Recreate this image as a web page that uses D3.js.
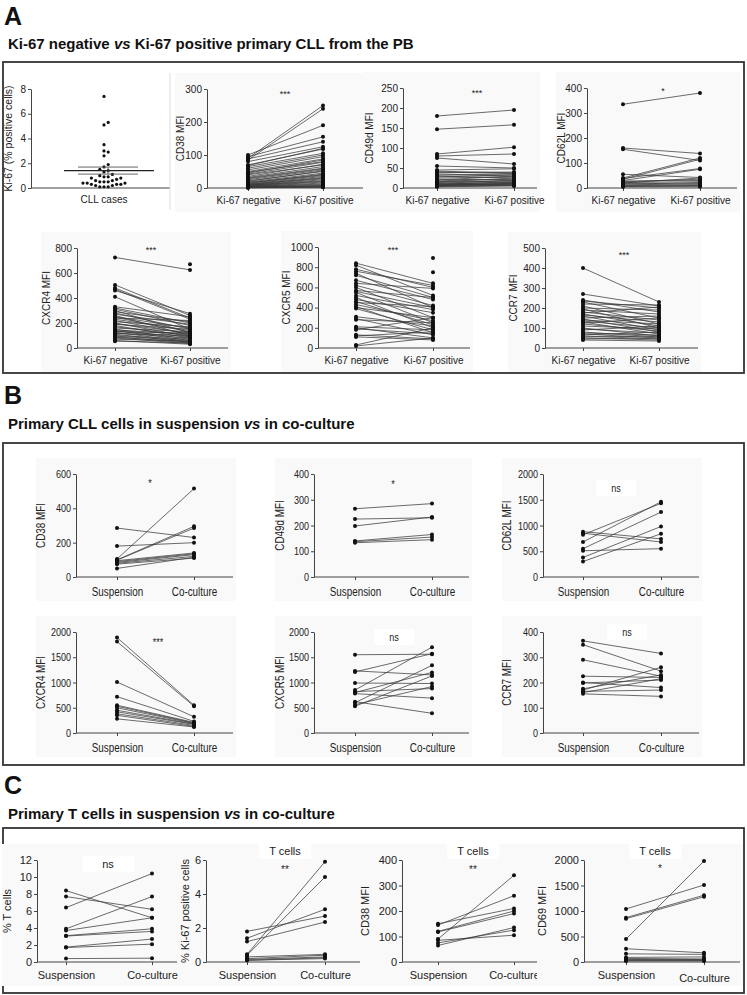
<!DOCTYPE html>
<html><head><meta charset="utf-8">
<script src="https://cdn.jsdelivr.net/npm/d3@7"></script>
<style>body{margin:0;background:#fff}svg{display:block}</style>
</head><body><svg id="c" width="747" height="995"></svg>
<script>
// ---------- DATA ----------
const catsKi = ["Ki-67 negative", "Ki-67 positive"];
const catsCo = ["Suspension", "Co-culture"];

const ki67Cases = [7.4,5.3,5.1,3.5,3.0,2.9,2.6,1.9,1.7,1.5,1.4,1.3,1.1,1.0,0.9,0.9,0.8,0.8,0.7,0.6,0.6,0.5,0.5,0.5,0.4,0.4,0.4,0.3,0.3,0.3,0.2,0.2,0.1,0.1,0.1];
const ki67Ticks = [0,2,4,6,8];

const cd38A_neg = [90,85,100,95,88,80,70,68,65,60,55,50,48,45,42,40,35,32,30,28,25,22,20,18,16,15,14,12,11,10,9,8,8,7,6,5,5,4,3,3,2,2,1,1];
const cd38A_pos = [250,240,190,155,140,125,118,120,105,100,95,88,80,85,78,70,72,65,60,58,55,50,52,45,40,42,38,35,30,32,28,25,22,20,18,15,12,10,8,6,5,4,3,2];
const cd38A_ticks = [0,100,200,300];

const cd49dA_neg = [180,147,85,80,75,55,45,42,40,38,35,32,30,28,25,22,20,18,16,15,14,12,11,10,9,8,8,7,6,5,5,4,3];
const cd49dA_pos = [195,158,102,85,60,50,48,38,36,40,30,35,25,33,28,20,30,22,15,25,18,12,20,14,10,16,9,11,8,12,6,7,5];
const cd49dA_ticks = [0,50,100,150,200,250];

const cd62lA_neg = [335,160,155,55,40,38,35,30,28,25,22,20,18,15,12,10,8,6,5];
const cd62lA_pos = [380,138,110,42,120,78,115,75,30,35,25,40,15,22,18,12,10,8,5];
const cd62lA_ticks = [0,100,200,300,400];

const cxcr4A_neg = [725,505,480,470,460,410,330,320,310,300,290,280,270,260,250,245,240,230,220,210,200,195,190,180,170,160,150,145,140,135,130,125,120,115,110,100,95,90,85,80,70,60,55];
const cxcr4A_pos = [625,260,240,230,275,150,250,200,180,120,210,150,190,100,160,130,220,140,110,170,90,120,150,80,100,130,70,110,60,90,120,50,80,100,45,70,60,40,50,35,55,30,40];
const cxcr4A_posExtra = [670];
const cxcr4A_ticks = [0,200,400,600,800];

const cxcr5A_neg = [840,820,780,760,740,720,670,640,620,600,570,560,550,520,500,480,460,450,430,410,400,390,310,290,280,210,200,190,180,130,120,110,30,20];
const cxcr5A_pos = [640,520,600,620,400,500,480,590,420,300,500,400,250,380,200,350,230,410,270,150,300,180,220,130,250,180,100,140,300,90,160,80,200,100];
const cxcr5A_posExtra = [890,750];
const cxcr5A_ticks = [0,200,400,600,800,1000];

const ccr7A_neg = [400,270,240,235,230,220,210,200,195,190,180,175,170,165,160,150,145,140,135,130,125,120,110,100,95,90,80,75,70,65,60,55,50,45,40];
const ccr7A_pos = [230,210,180,200,150,215,120,190,100,170,140,205,110,130,90,160,80,120,100,70,150,85,95,60,75,110,55,65,50,80,45,60,40,50,35];
const ccr7A_ticks = [0,100,200,300,400,500];

const cd38B_susp = [285,180,105,100,98,95,90,85,80,75,50];
const cd38B_co   = [230,200,515,295,285,140,135,130,120,110,115];
const cd38B_ticks = [0,200,400,600];

const cd49dB_susp = [265,225,198,140,137,133];
const cd49dB_co   = [285,230,233,165,155,145];
const cd49dB_ticks = [0,100,200,300,400];

const cd62lB_susp = [880,850,820,680,550,510,380,300];
const cd62lB_co   = [740,680,1430,1460,1260,550,980,840];
const cd62lB_ticks = [0,500,1000,1500,2000];

const cxcr4B_susp = [1890,1810,1010,720,550,530,500,450,420,380,350,280];
const cxcr4B_co   = [550,530,320,230,210,200,190,180,170,150,130,120];
const cxcr4B_ticks = [0,500,1000,1500,2000];

const cxcr5B_susp = [1550,1230,1210,990,850,820,800,780,620,600,560,530];
const cxcr5B_co   = [1560,1150,1570,980,1700,880,1200,690,390,1340,920,1130];
const cxcr5B_ticks = [0,500,1000,1500,2000];

const ccr7B_susp = [365,350,290,225,200,198,175,170,165,160,155];
const ccr7B_co   = [315,245,225,220,180,210,230,260,170,215,145];
const ccr7B_ticks = [0,100,200,300,400];

const tcellsC_susp = [8.4,7.7,6.4,3.9,3.7,3.1,3.05,1.75,1.7,0.4];
const tcellsC_co   = [5.2,6.2,10.4,7.7,5.2,3.9,3.6,2.7,2.1,0.45];
const tcellsC_ticks = [0,2,4,6,8,10,12];

const ki67C_susp = [1.8,1.4,1.2,0.45,0.4,0.3,0.2,0.15,0.1,0.1];
const ki67C_co   = [2.7,3.1,2.35,5.9,5.0,0.45,0.4,0.3,0.25,0.2];
const ki67C_ticks = [0,2,4,6];

const cd38C_susp = [150,145,120,118,90,85,75,65];
const cd38C_co   = [210,260,200,190,340,105,125,135];
const cd38C_ticks = [0,100,200,300,400];

const cd69C_susp = [1040,870,850,450,260,160,90,70,50,40,30,20];
const cd69C_co   = [1510,1310,1280,1980,180,150,100,60,40,50,30,20];
const cd69C_ticks = [0,500,1000,1500,2000];

// ---------- DRAWING ----------
const svg = d3.select('#c');
const FONT = "'Liberation Sans', Arial, Helvetica, sans-serif";
const INK = '#222';

function header(letter, ly, title, ty) {
  svg.append('text').attr('x', 4).attr('y', ly).attr('font-family', FONT)
    .attr('font-weight', 'bold').attr('font-size', 25).attr('fill', '#111').text(letter);
  const t = svg.append('text').attr('x', 8).attr('y', ty).attr('font-family', FONT)
    .attr('font-weight', 'bold').attr('font-size', 15).attr('fill', '#111');
  title.forEach(p => t.append('tspan').attr('font-style', p.i ? 'italic' : 'normal').text(p.t));
}
function frame(y0, y1) {
  svg.append('rect').attr('x', 3).attr('y', y0).attr('width', 741).attr('height', y1 - y0)
    .attr('fill', 'none').attr('stroke', '#333').attr('stroke-width', 1.8);
}
function labelBox(g, x, y, txt, fs, font, pad) {
  const t = g.append('text').attr('x', x).attr('y', y).attr('text-anchor', 'middle')
    .attr('font-family', font).attr('font-size', fs).attr('fill', INK).text(txt);
  const b = t.node().getBBox();
  g.insert('rect', () => t.node()).attr('x', b.x - pad).attr('y', b.y - 2).attr('width', b.width + 2 * pad)
    .attr('height', b.height + 4).attr('fill', '#fff');
}

function yAxis(g, o, y) {
  const ay = g.append('g').attr('transform', `translate(${o.ax},0)`)
    .call(d3.axisLeft(y).tickValues(o.ticks).tickSize(3).tickPadding(2).tickSizeOuter(0).tickFormat(d3.format('d')));
  ay.attr('font-family', o.font).attr('font-size', o.fs);
  ay.select('.domain').attr('stroke', '#444');
  ay.selectAll('.tick line').attr('stroke', '#444');
  ay.selectAll('.tick text').attr('fill', INK);
  g.append('text').attr('transform', `translate(${o.lx},${(o.y0 + o.y1) / 2}) rotate(-90)`)
    .attr('text-anchor', 'middle').attr('font-family', o.font).attr('font-size', o.lfs || o.fs)
    .attr('fill', INK).text(o.ylab);
}

function paired(o) {
  const g = svg.append('g');
  const x = d3.scalePoint().domain(o.cats).range([o.c1, o.c2]);
  const y = d3.scaleLinear().domain([0, d3.max(o.ticks)]).range([o.y0, o.y1]);
  g.append('rect').attr('x', o.lx - 9).attr('y', o.y1 - 16).attr('width', o.axEnd - o.lx + 12)
    .attr('height', o.y0 - o.y1 + 40).attr('fill', '#f9f9f9');
  if (o.tc) labelBox(g, o.tc[0], o.tc[1], 'T cells', o.fs, o.font, 10);
  yAxis(g, o, y);
  const ax = g.append('g').attr('transform', `translate(0,${o.y0})`)
    .call(d3.axisBottom(x).tickSize(3).tickPadding(o.xpad || 5));
  ax.attr('font-family', o.font).attr('font-size', o.xfs || o.fs);
  ax.select('.domain').remove();
  ax.selectAll('.tick line').attr('stroke', '#444');
  ax.selectAll('.tick text').attr('fill', INK)
    .attr('dy', (d, i) => (o.xdrop && i === 1) ? '1.0em' : '0.71em');
  g.append('line').attr('x1', o.ax).attr('x2', o.axEnd).attr('y1', o.y0).attr('y2', o.y0)
    .attr('stroke', '#444');
  const pairs = d3.zip(o.a, o.b);
  g.selectAll('line.pr').data(pairs).join('line').attr('class', 'pr')
    .attr('x1', x(o.cats[0])).attr('x2', x(o.cats[1]))
    .attr('y1', d => y(d[0])).attr('y2', d => y(d[1]))
    .attr('stroke', '#3a3a3a').attr('stroke-width', 0.75);
  const pts = o.a.map(v => [o.cats[0], v]).concat(o.b.map(v => [o.cats[1], v]))
    .concat((o.extra || []).map(v => [o.cats[1], v]));
  g.selectAll('circle.pt').data(pts).join('circle').attr('class', 'pt')
    .attr('cx', d => x(d[0])).attr('cy', d => y(d[1])).attr('r', o.r || 2).attr('fill', '#111');
  if (o.sig) {
    if (o.sigBox) labelBox(g, o.sx, o.sy, o.sig, o.sfs, o.font, o.sigPad || 14);
    else g.append('text').attr('x', o.sx).attr('y', o.sy).attr('text-anchor', 'middle')
      .attr('font-family', o.font).attr('font-size', o.sfs).attr('fill', INK).text(o.sig);
  }
  if (o.condense) {
    g.selectAll('text').each(function () {
      const L = this.getComputedTextLength();
      d3.select(this).attr('textLength', L * o.condense).attr('lengthAdjust', 'spacingAndGlyphs');
    });
  }
}

// ===== Panel A =====
header('A', 25, [{t: 'Ki-67 negative '}, {t: 'vs', i: 1}, {t: ' Ki-67 positive primary CLL from the PB'}], 49);
frame(62, 373);

// A1 scatter
(function () {
  const o = {ax: 31, axEnd: 170, y0: 188, y1: 89, ticks: ki67Ticks, font: FONT, fs: 10, lx: 12,
    ylab: 'Ki-67 (% positive cells)', lfs: 10.5};
  const g = svg.append('g');
  const y = d3.scaleLinear().domain([0, 8]).range([o.y0, o.y1]);
  yAxis(g, o, y);
  g.append('line').attr('x1', o.ax).attr('x2', o.axEnd).attr('y1', o.y0).attr('y2', o.y0).attr('stroke', '#444');
  g.append('line').attr('x1', 170).attr('x2', 170).attr('y1', 73).attr('y2', 210).attr('stroke', '#ddd');
  const cx = 104;
  g.append('text').attr('x', cx).attr('y', 203).attr('text-anchor', 'middle').attr('font-family', FONT)
    .attr('font-size', 10).attr('fill', INK).text('CLL cases');
  const placed = [];
  ki67Cases.slice().sort((a, b) => a - b).forEach(v => {
    const py = y(v);
    let k = 0, px;
    for (;;) {
      px = cx + (k % 2 ? 1 : -1) * Math.ceil(k / 2) * 4.2;
      if (!placed.some(p => Math.hypot(p[0] - px, p[1] - py) < 3.9)) break;
      k++;
    }
    placed.push([px, py]);
  });
  g.selectAll('circle').data(placed).join('circle').attr('cx', d => d[0]).attr('cy', d => d[1])
    .attr('r', 1.6).attr('fill', '#111');
  const m = d3.mean(ki67Cases), se = d3.deviation(ki67Cases) / Math.sqrt(ki67Cases.length);
  g.append('line').attr('x1', cx - 40).attr('x2', cx + 50).attr('y1', y(m)).attr('y2', y(m)).attr('stroke', '#222').attr('stroke-width', 1.2);
  [m - se, m + se].forEach(v => g.append('line').attr('x1', cx - 26).attr('x2', cx + 34)
    .attr('y1', y(v)).attr('y2', y(v)).attr('stroke', '#555').attr('stroke-width', 0.9));
  g.append('line').attr('x1', cx + 4).attr('x2', cx + 4).attr('y1', y(m - se)).attr('y2', y(m + se)).attr('stroke', '#555').attr('stroke-width', 0.9);
})();

const baseA = {cats: catsKi, font: FONT, fs: 10, sfs: 9, xpad: 6};
paired({...baseA, a: cd38A_neg, b: cd38A_pos, ticks: cd38A_ticks, ax: 207, axEnd: 363, c1: 248, c2: 323, y0: 188, y1: 89, lx: 184, ylab: 'CD38 MFI', sig: '***', sx: 285, sy: 97});
paired({...baseA, a: cd49dA_neg, b: cd49dA_pos, ticks: cd49dA_ticks, ax: 403, axEnd: 537, c1: 437, c2: 514, y0: 188, y1: 88, lx: 373, ylab: 'CD49d MFI', sig: '***', sx: 477, sy: 96});
paired({...baseA, a: cd62lA_neg, b: cd62lA_pos, ticks: cd62lA_ticks, ax: 587, axEnd: 737, c1: 623, c2: 700, y0: 188, y1: 88, lx: 565, ylab: 'CD62L MFI', sig: '*', sx: 663, sy: 94});
paired({...baseA, a: cxcr4A_neg, b: cxcr4A_pos, extra: cxcr4A_posExtra, ticks: cxcr4A_ticks, ax: 77, axEnd: 228, c1: 115, c2: 190, y0: 348, y1: 248, lx: 50, ylab: 'CXCR4 MFI', sig: '***', sx: 151, sy: 253});
paired({...baseA, a: cxcr5A_neg, b: cxcr5A_pos, extra: cxcr5A_posExtra, ticks: cxcr5A_ticks, ax: 318, axEnd: 470, c1: 356, c2: 433, y0: 348, y1: 247, lx: 290, ylab: 'CXCR5 MFI', sig: '***', sx: 393, sy: 253});
paired({...baseA, a: ccr7A_neg, b: ccr7A_pos, ticks: ccr7A_ticks, ax: 545, axEnd: 698, c1: 583, c2: 659, y0: 348, y1: 248, lx: 517, ylab: 'CCR7 MFI', sig: '***', sx: 624, sy: 258});

// ===== Panel B =====
header('B', 404, [{t: 'Primary CLL cells in suspension '}, {t: 'vs', i: 1}, {t: ' in co-culture'}], 429);
frame(443, 765);
const baseB = {cats: catsCo, font: FONT, fs: 11, xfs: 12, lfs: 12, sfs: 11, xpad: 7, condense: 0.82};
paired({...baseB, a: cd38B_susp, b: cd38B_co, ticks: cd38B_ticks, ax: 76, axEnd: 233, c1: 117, c2: 194, y0: 577, y1: 474, lx: 45, ylab: 'CD38 MFI', sig: '*', sx: 150, sy: 487});
paired({...baseB, a: cd49dB_susp, b: cd49dB_co, ticks: cd49dB_ticks, ax: 314, axEnd: 469, c1: 355, c2: 432, y0: 577, y1: 474, lx: 284, ylab: 'CD49d MFI', sig: '*', sx: 393, sy: 488});
paired({...baseB, a: cd62lB_susp, b: cd62lB_co, ticks: cd62lB_ticks, ax: 543, axEnd: 699, c1: 583, c2: 661, y0: 577, y1: 474, lx: 511, ylab: 'CD62L MFI', sig: 'ns', sigBox: 1, sx: 616, sy: 492});
paired({...baseB, a: cxcr4B_susp, b: cxcr4B_co, ticks: cxcr4B_ticks, ax: 76, axEnd: 233, c1: 117, c2: 194, y0: 733, y1: 632, lx: 45, ylab: 'CXCR4 MFI', sig: '***', sx: 158, sy: 646});
paired({...baseB, a: cxcr5B_susp, b: cxcr5B_co, ticks: cxcr5B_ticks, ax: 314, axEnd: 469, c1: 355, c2: 432, y0: 733, y1: 632, lx: 284, ylab: 'CXCR5 MFI', sig: 'ns', sigBox: 1, sx: 394, sy: 641});
paired({...baseB, a: ccr7B_susp, b: ccr7B_co, ticks: ccr7B_ticks, ax: 543, axEnd: 699, c1: 583, c2: 661, y0: 733, y1: 632, lx: 511, ylab: 'CCR7 MFI', sig: 'ns', sigBox: 1, sx: 627, sy: 636});

// ===== Panel C =====
header('C', 794, [{t: 'Primary T cells in suspension '}, {t: 'vs', i: 1}, {t: ' in co-culture'}], 819);
frame(828, 993);
const baseC = {cats: catsCo, font: FONT, fs: 11, xfs: 11, lfs: 11, sfs: 10, xpad: 6};
paired({...baseC, a: tcellsC_susp, b: tcellsC_co, ticks: tcellsC_ticks, ax: 37, axEnd: 177, c1: 66, c2: 152, y0: 962, y1: 860, lx: 11, ylab: '% T cells', sig: 'ns', sigBox: 1, sigPad: 20, sfs: 11, sx: 108, sy: 868});
paired({...baseC, a: ki67C_susp, b: ki67C_co, ticks: ki67C_ticks, ax: 206, axEnd: 372, c1: 247, c2: 325, y0: 962, y1: 860, lx: 189, ylab: '% Ki-67 positive cells', sig: '**', sx: 285, sy: 873, tc: [285, 855]});
paired({...baseC, a: cd38C_susp, b: cd38C_co, ticks: cd38C_ticks, ax: 402, axEnd: 545, c1: 438, c2: 514, y0: 962, y1: 860, lx: 369, ylab: 'CD38 MFI', sig: '**', sx: 473, sy: 873, tc: [473, 855]});
paired({...baseC, a: cd69C_susp, b: cd69C_co, ticks: cd69C_ticks, ax: 584, axEnd: 740, c1: 626, c2: 704, y0: 962, y1: 860, lx: 546, ylab: 'CD69 MFI', sig: '*', sx: 660, sy: 872, tc: [655, 855], xdrop: 1});
</script></body></html>
